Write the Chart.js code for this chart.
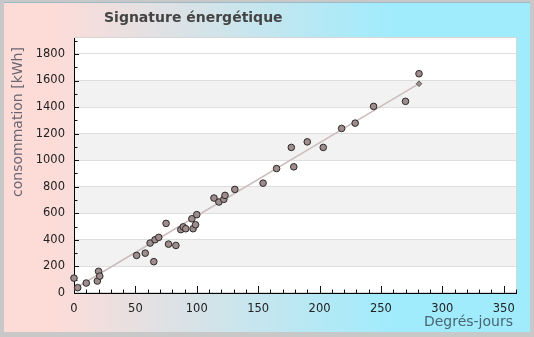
<!DOCTYPE html>
<html>
<head>
<meta charset="utf-8">
<script src="https://cdn.jsdelivr.net/npm/chart.js@4.4.1/dist/chart.umd.min.js"></script>
<style>
    html, body { margin: 0; padding: 0; background: #c8c8c8; }
    #frame { position: relative; width: 534px; height: 337px; background: #c8c8c8; overflow: hidden; }
    #panel {
        position: absolute; left: 4px; top: 2px; width: 526px; height: 329px;
        border-top: 1px solid #9bb9c6;
        background: linear-gradient(to right, #fddcd8 0px, #fddcd8 50px, #a0ecfd 390px, #a0ecfd 526px);
    }
    #chart { position: absolute; left: 0; top: 0; }
</style>
</head>
<body>
<div id="frame">
    <div id="panel"></div>
    <canvas id="chart" width="534" height="337"></canvas>
</div>
<script>
// Données
const degresJours = [0, 3, 10, 19, 20, 21, 51, 58, 65, 62, 66, 69, 75, 77, 83, 87, 89, 91, 96, 100,
    97, 99, 114, 118, 122, 123, 131, 154, 165, 179, 177, 190, 203, 218, 229, 244, 270, 281];
const consommation = [112, 40, 75, 90, 163, 127, 283, 300, 236, 376, 401, 419, 524, 368, 358, 477, 498, 484, 559, 590,
    484, 514, 715, 685, 705, 735, 780, 827, 937, 950, 1096, 1138, 1096, 1239, 1279, 1405, 1443, 1651];
// Droite de régression (extrémités)
const tendanceX = [0, 281];
const tendanceY = [30, 1576];
// Graduations
const xTicks = [0, 50, 100, 150, 200, 250, 300, 350];
const yTicks = [0, 200, 400, 600, 800, 1000, 1200, 1400, 1600, 1800];

const FONT = 'DejaVu Sans';

const mesures = degresJours.map((d, i) => ({ x: d, y: consommation[i] }));
const tendance = tendanceX.map((d, i) => ({ x: d, y: tendanceY[i] }));

// Fond du graphique, bandes, titres et petites graduations intérieures
const decorPlugin = {
    id: 'decor',
    beforeDraw(chart) {
        const { ctx, chartArea: a, scales: { x, y } } = chart;
        ctx.save();
        ctx.fillStyle = '#ffffff';
        ctx.fillRect(a.left, a.top, a.right - a.left, a.bottom - a.top);
        ctx.fillStyle = '#f2f2f2';
        for (let i = 1; i < yTicks.length - 1; i += 2) {
            const y1 = y.getPixelForValue(yTicks[i]);
            const y2 = y.getPixelForValue(yTicks[i + 1]);
            ctx.fillRect(a.left, y2, a.right - a.left, y1 - y2);
        }
        ctx.strokeStyle = '#d6d6d6';
        ctx.lineWidth = 1;
        ctx.strokeRect(a.left + 0.5, a.top - 0.5, a.right - a.left, a.bottom - a.top);

        // titre
        ctx.fillStyle = '#444444';
        ctx.font = 'bold 14px "' + FONT + '"';
        ctx.textAlign = 'left';
        ctx.textBaseline = 'middle';
        ctx.fillText('Signature énergétique', 104, 18);

        // titres des axes
        ctx.fillStyle = '#4b6472';
        ctx.font = '14px "' + FONT + '"';
        ctx.textAlign = 'right';
        ctx.fillText('Degrés-jours', 513, 322);
        ctx.fillStyle = '#6a6672';
        ctx.save();
        ctx.translate(18, 122);
        ctx.rotate(-Math.PI / 2);
        ctx.textAlign = 'center';
        ctx.fillText('consommation [kWh]', 0, 0);
        ctx.restore();
        ctx.restore();
    },
    beforeDatasetsDraw(chart) {
        const { ctx, chartArea: a, scales: { x, y } } = chart;
        ctx.save();
        ctx.strokeStyle = '#111111';
        ctx.lineWidth = 1;
        ctx.beginPath();
        for (let v = 0; v <= x.max; v += 10) {
            const px = Math.round(x.getPixelForValue(v)) + 0.5;
            const len = v % 50 === 0 ? 7 : 3.5;
            ctx.moveTo(px, a.bottom);
            ctx.lineTo(px, a.bottom - len);
        }
        for (let v = 0; v <= y.max; v += 100) {
            const py = Math.round(y.getPixelForValue(v)) + 0.5;
            const len = v % 200 === 0 ? 5 : 3.5;
            ctx.moveTo(a.left, py);
            ctx.lineTo(a.left + len, py);
        }
        ctx.stroke();
        ctx.restore();
    }
};

new Chart(document.getElementById('chart'), {
    type: 'scatter',
    data: {
        datasets: [{
            label: 'Mesures',
            data: mesures,
            pointRadius: 3.3,
            pointBackgroundColor: '#a08c8c',
            pointBorderColor: '#2a2a2a',
            pointBorderWidth: 1,
            clip: false
        }, {
            type: 'line',
            label: 'Tendance',
            data: tendance,
            borderColor: '#cbbdbd',
            borderWidth: 1.5,
            pointRadius: [0, 2.8],
            pointStyle: 'rectRot',
            pointBackgroundColor: '#a08c8c',
            pointBorderColor: '#555555',
            pointBorderWidth: 1,
            clip: false
        }]
    },
    options: {
        responsive: false,
        animation: false,
        devicePixelRatio: 1,
        layout: { padding: { left: 0, top: 38, right: 18, bottom: 0 } },
        plugins: {
            legend: { display: false },
            tooltip: { enabled: false },
            title: { display: false }
        },
        scales: {
            x: {
                type: 'linear',
                min: 0,
                max: 360,
                afterBuildTicks: s => { s.ticks = xTicks.map(v => ({ value: v })); },
                afterFit: s => { s.height = 44; },
                grid: { display: false, drawTicks: false },
                border: { color: '#000000', width: 1 },
                ticks: {
                    color: '#222222',
                    font: { family: FONT, size: 11.5 },
                    padding: 9,
                    maxRotation: 0,
                    autoSkip: false,
                    callback: v => String(v)
                }
            },
            y: {
                type: 'linear',
                min: 0,
                max: 1920,
                afterBuildTicks: s => { s.ticks = yTicks.map(v => ({ value: v })); },
                afterFit: s => { s.width = 74; },
                grid: { color: '#dedede', drawTicks: false },
                border: { color: '#000000', width: 1 },
                ticks: {
                    color: '#222222',
                    font: { family: FONT, size: 11.5 },
                    padding: 9,
                    callback: v => String(v)
                }
            }
        }
    },
    plugins: [decorPlugin]
});
</script>
</body>
</html>
